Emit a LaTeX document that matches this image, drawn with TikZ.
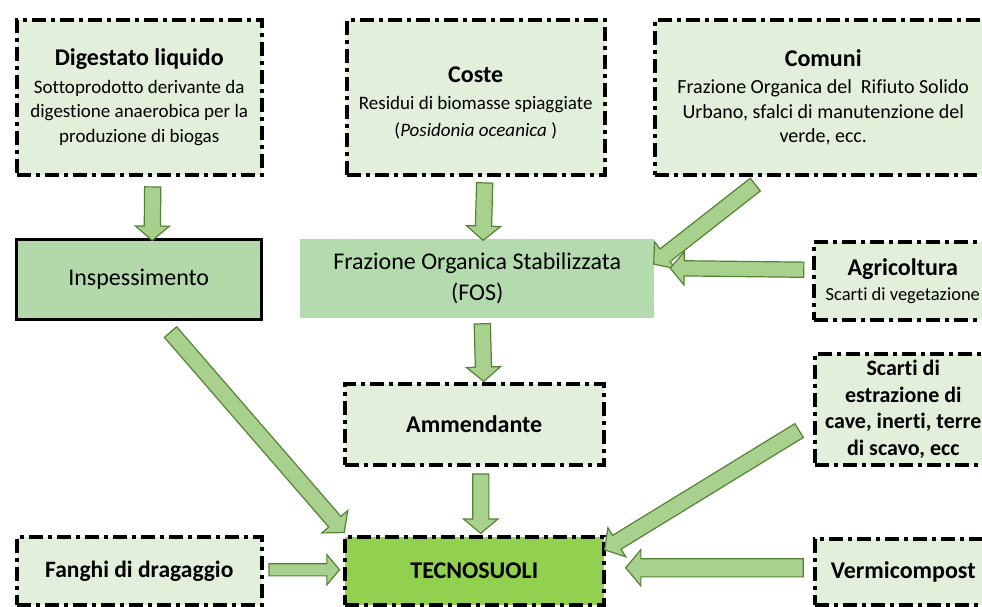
\documentclass[tikz,border=0pt]{standalone}
\usepackage{fontspec}
\setmainfont{Carlito}[Ligatures=CommonOff]
\usetikzlibrary{shapes.arrows,calc}
\definecolor{lightfill}{HTML}{E2EFDA}
\definecolor{midfill}{HTML}{B3D9AB}
\definecolor{fosfill}{HTML}{B4DBAE}
\definecolor{tecnofill}{HTML}{92D050}
\definecolor{arrowfill}{HTML}{A9D18E}
\definecolor{arrowline}{HTML}{548235}
\newcommand\ttl[1]{{\fontsize{24}{28}\selectfont\bfseries #1}}
\tikzset{
  src/.style={draw=black, fill=lightfill, line width=3.5pt,
    dash pattern=on 14pt off 5pt on 4pt off 5pt, anchor=north west,
    inner sep=2pt, align=center, text=black,
    font=\fontsize{19}{24.5}\selectfont},
  bigbold/.style={font=\fontsize{24}{28}\selectfont\bfseries},
  blockarr/.style={single arrow, draw=arrowline, fill=arrowfill, line width=1.2pt,
    inner xsep=0pt, inner ysep=7.5pt, single arrow head extend=9pt,
    single arrow tip angle=100, minimum width=0pt, anchor=center},
  smallarr/.style={inner ysep=5.5pt, single arrow head extend=9pt}
}
\newcommand\barrow[3][]{%
  \path let \p1=(#2), \p2=(#3),
    \n1={veclen(\x2-\x1,\y2-\y1)}, \n2={atan2(\y2-\y1,\x2-\x1)} in
    node[blockarr,#1,minimum height=\n1,rotate=\n2] at ($(\p1)!0.5!(\p2)$) {};}
\begin{document}
\begin{tikzpicture}[x=1pt,y=-1pt]
\useasboundingbox (0,0) rectangle (982,606);
% source boxes
\node[src, minimum width=245pt, minimum height=155pt] (dig) at (15,18)
  {\ttl{Digestato liquido}\\[3pt] Sottoprodotto derivante da\\ digestione anaerobica per la\\ produzione di biogas};
\node[src, font=\fontsize{19}{27}\selectfont, minimum width=258pt, minimum height=155pt] (coste) at (345,18)
  {\rule{0pt}{28pt}\ttl{Coste}\\ Residui di biomasse spiaggiate\\ (\textit{Posidonia oceanica} )};
\node[src, font=\fontsize{20}{24.5}\selectfont, minimum width=337pt, minimum height=155pt] (comuni) at (653,18)
  {\ttl{Comuni}\\[3pt] Frazione Organica del\ \ Rifiuto Solido\\ Urbano, sfalci di manutenzione del\\ verde, ecc.};
\node[draw=black, fill=midfill, line width=2.5pt, anchor=north west,
  minimum width=245pt, minimum height=80pt, font=\fontsize{24}{28}\selectfont] (insp) at (15,238) {Inspessimento};
\node[fill=fosfill, anchor=north west, align=center,
  minimum width=354pt, minimum height=79pt, font=\fontsize{24}{31}\selectfont] (fos) at (300,239)
  {Frazione Organica Stabilizzata\\ (FOS)};
\node[src, font=\fontsize{18.5}{25}\selectfont, minimum width=178pt, minimum height=78pt] (agri) at (812,240)
  {\ttl{Agricoltura}\\ Scarti di vegetazione};
\node[src, font=\fontsize{22}{26.5}\selectfont\bfseries, minimum width=177pt, minimum height=111pt] (scarti) at (813,352)
  {Scarti di\\ estrazione di\\ cave, inerti, terre\\ di scavo, ecc};
\node[src, bigbold, minimum width=259pt, minimum height=81pt] (amm) at (343,382) {Ammendante};
\node[src, bigbold, fill=tecnofill, minimum width=259pt, minimum height=68pt] (tecno) at (343,535) {TECNOSUOLI};
\node[src, font=\fontsize{23.5}{28}\selectfont\bfseries, minimum width=245pt, minimum height=68pt] (fanghi) at (15,535) {Fanghi di dragaggio};
\node[src, bigbold, minimum width=177pt, minimum height=66pt] (verm) at (813,537) {Vermicompost};
% arrows
\barrow{$(dig.south)+(13.5,7)$}{$(insp.north)+(13.5,-1)$}
\barrow{$(coste.south)+(9,3)$}{$(fos.north)+(6,-2)$}
\barrow{$(comuni.south west)+(105,6)$}{$(fos.north east)+(2,23)$}
\barrow[inner ysep=7pt]{$(agri.west)+(-5,-11)$}{$(fos.east)+(19,-10.5)$}
\barrow{$(fos.south)+(5,2)$}{$(amm.north)+(9.5,-4)$}
\barrow{$(amm.south)+(6.5,4)$}{$(tecno.north)+(6.5,-5)$}
\barrow{$(insp.south)+(29.5,9)$}{$(tecno.north west)+(-1,-5)$}
\barrow{$(scarti.west)+(-11,19.5)$}{$(tecno.north east)+(2,13)$}
\barrow[smallarr]{$(fanghi.east)+(3,-1)$}{$(tecno.west)+(-6,-1)$}
\barrow[inner ysep=8.5pt]{$(verm.west)+(-6,-4)$}{$(tecno.east)+(24,-3)$}
\end{tikzpicture}
\end{document}
